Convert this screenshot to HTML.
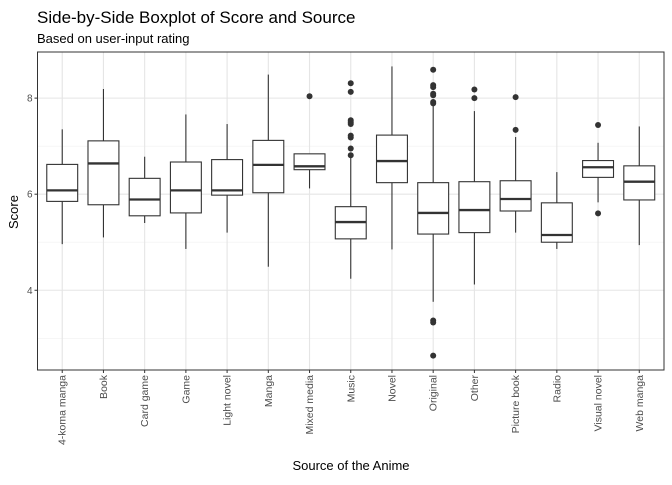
<!DOCTYPE html>
<html><head><meta charset="utf-8"><style>
body{margin:0;background:#fff;font-family:"Liberation Sans",Arial,sans-serif;}
svg text{font-family:"Liberation Sans",Arial,sans-serif;}
</style></head><body>
<svg id="chart" width="672" height="480" xmlns="http://www.w3.org/2000/svg">
<text x="37" y="23" font-size="17" fill="#000">Side-by-Side Boxplot of Score and Source</text>
<text x="37" y="43" font-size="13" fill="#000">Based on user-input rating</text>
<g id="grid"></g>
<g id="boxes"></g>
<g id="axes"></g>
<text transform="translate(18,212) rotate(-90)" text-anchor="middle" font-size="13">Score</text>
<text x="351" y="470" text-anchor="middle" font-size="13">Source of the Anime</text>
</svg>
<script>
const categories=["4-koma manga","Book","Card game","Game","Light novel","Manga","Mixed media","Music","Novel","Original","Other","Picture book","Radio","Visual novel","Web manga"];
const lowWhisker=[4.96,5.10,5.40,4.86,5.20,4.49,6.12,4.24,4.85,3.76,4.12,5.20,4.86,5.83,4.94];
const q1=[5.85,5.78,5.55,5.61,5.98,6.03,6.51,5.07,6.24,5.17,5.20,5.65,5.00,6.35,5.88];
const medians=[6.08,6.64,5.89,6.08,6.08,6.61,6.58,5.42,6.69,5.61,5.67,5.90,5.15,6.56,6.26];
const q3=[6.62,7.11,6.33,6.67,6.72,7.12,6.84,5.74,7.23,6.24,6.26,6.28,5.82,6.70,6.59];
const highWhisker=[7.35,8.19,6.78,7.66,7.46,8.49,6.84,6.76,8.66,7.85,7.73,7.19,6.46,7.07,7.41];
const outliers=[[],[],[],[],[],[],[8.04],[8.31,8.13,7.54,7.50,7.46,7.22,7.18,6.95,6.81],[],[8.59,8.27,8.23,8.09,8.06,7.92,7.89,3.37,3.33,2.64],[8.18,8.00],[8.02,7.34],[],[7.44,5.60],[]];
const yTicks=[4,6,8];
const yMinor=[3,5,7];

const NS="http://www.w3.org/2000/svg";
const L=37.5,R=664,T=52,B=370;
const yMin=2.34,yMax=8.96;
const y=v=>B-(v-yMin)/(yMax-yMin)*(B-T);
const step=(R-L)/(categories.length-1+1.2);
const x=i=>L+step*(0.6+i);
function mk(tag,attrs,parent){const e=document.createElementNS(NS,tag);for(const k in attrs)e.setAttribute(k,attrs[k]);parent.appendChild(e);return e;}
const grid=document.getElementById('grid'),boxes=document.getElementById('boxes'),axes=document.getElementById('axes');
mk('rect',{x:L,y:T,width:R-L,height:B-T,fill:'#fff'},grid);
yMinor.forEach(v=>{const l=mk('line',{x1:L,x2:R,y1:y(v),y2:y(v),stroke:'#f0f0f0','stroke-width':0.6},grid);

});
yTicks.forEach(v=>{const l=mk('line',{x1:L,x2:R,y1:y(v),y2:y(v),stroke:'#e5e5e5','stroke-width':1.1},grid);


const t=mk('line',{x1:L-3,x2:L,y1:y(v),y2:y(v),stroke:'#333','stroke-width':1},axes);


const tx=mk('text',{x:L-5,y:y(v)+3.5,'text-anchor':'end','font-size':10,fill:'#4d4d4d'},axes);tx.textContent=v;

});
const hw=step*0.375;
categories.forEach((c,i)=>{
 const cx=x(i);
 const g=mk('line',{x1:cx,x2:cx,y1:T,y2:B,stroke:'#e5e5e5','stroke-width':1.1},grid);
 
 
 const grp=mk('g',{},boxes);
 
 
 mk('line',{x1:cx,x2:cx,y1:y(highWhisker[i]),y2:y(q3[i]),stroke:'#333','stroke-width':1.1},grp);
 mk('line',{x1:cx,x2:cx,y1:y(q1[i]),y2:y(lowWhisker[i]),stroke:'#333','stroke-width':1.1},grp);
 mk('rect',{x:cx-hw,y:y(q3[i]),width:2*hw,height:y(q1[i])-y(q3[i]),fill:'#fff',stroke:'#333','stroke-width':1.1},grp);
 mk('line',{x1:cx-hw,x2:cx+hw,y1:y(medians[i]),y2:y(medians[i]),stroke:'#333','stroke-width':2.3},grp);
 outliers[i].forEach(v=>{const p=mk('circle',{cx:cx,cy:y(v),r:3,fill:'#333'},grp);
 
 });
 const t=mk('line',{x1:cx,x2:cx,y1:B,y2:B+3,stroke:'#333','stroke-width':1},axes);
 
 
 const tx=mk('text',{transform:`translate(${cx+3.5},${B+5}) rotate(-90)`,'text-anchor':'end','font-size':10.5,fill:'#4d4d4d'},axes);tx.textContent=c;
 
 
});
const border=mk('rect',{x:L,y:T,width:R-L,height:B-T,fill:'none',stroke:'#333','stroke-width':1},axes);


</script>
</body></html>
